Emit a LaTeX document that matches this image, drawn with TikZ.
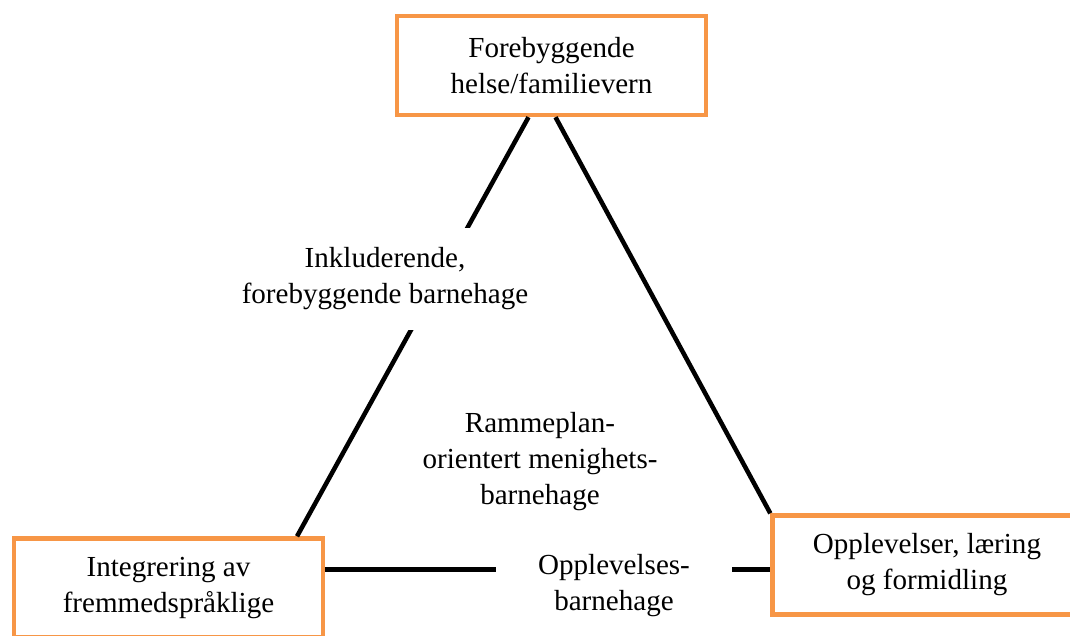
\documentclass[tikz,border=0pt]{standalone}
\usepackage{fontspec}
\setmainfont{Liberation Serif}
\usepackage{xcolor}
\usetikzlibrary{positioning}
\definecolor{boxorange}{HTML}{F79646}
\def\boxwidth{231.75pt}
\def\boxheight{74.25pt}
\def\textsize{\fontsize{21.8}{27}\selectfont}
\tikzset{
  goal_box/.style={draw=boxorange, line width=3.3pt, fill=white, minimum width=\boxwidth,
    minimum height=\boxheight, align=center, inner sep=0pt, font=\textsize},
  kind_label/.style={fill=white, align=center, inner sep=0pt, font=\textsize},
  side_line/.style={line width=3.4pt}
}

\begin{document}
\begin{tikzpicture}[x=0.75pt, y=-0.75pt]

\useasboundingbox (0,0) rectangle (1070,635);

% the three corners
\node[goal_box] (forebyggende) at (551.5, 65.5) {Forebyggende\\helse/familievern};
\node[goal_box] (integrering) at (168.5, 588) {Integrering av\\fremmedspråklige};
\node[goal_box] (opplevelser) at (927, 565) {Opplevelser, læring\\og formidling};

% sides
\coordinate (top_left_end) at ([xshift=-17.25pt]forebyggende.south);
\coordinate (top_right_end) at ([xshift=3pt]forebyggende.south);
\coordinate (left_top_end) at ([xshift=96.4pt]integrering.north);
\coordinate (bottom_left_end) at ([yshift=13.9pt]integrering.east);

\draw[side_line] (top_left_end) -- (left_top_end);
\draw[side_line] (top_right_end) -- (opplevelser.north west);
\draw[side_line] (bottom_left_end) -- (bottom_left_end -| opplevelser.west);

% kinds of barnehage
\node[kind_label, inner ysep=14.6pt] (inkluderende) at (385, 279) {Inkluderende,\\forebyggende barnehage};
\node[kind_label] (rammeplan) at (540, 462) {Rammeplan-\\orientert menighets-\\barnehage};
\node[kind_label, inner xsep=31.5pt, inner ysep=4pt] (opplevelses) at (614, 586) {Opplevelses-\\barnehage};

\end{tikzpicture}
\end{document}
